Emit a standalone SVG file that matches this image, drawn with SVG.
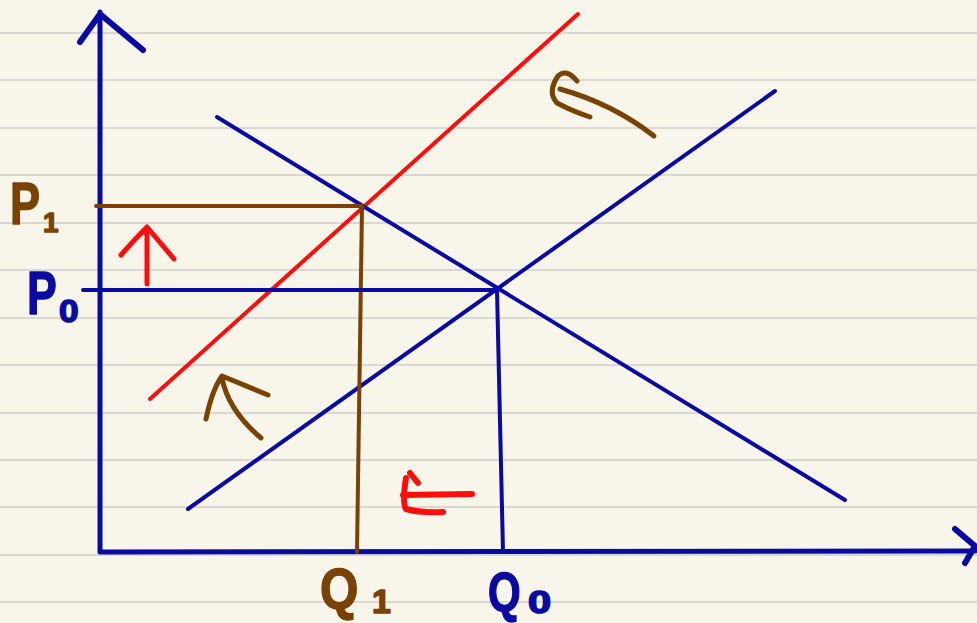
<svg xmlns="http://www.w3.org/2000/svg" width="977" height="623" viewBox="0 0 977 623">
<style>
.rule{stroke:#d9d8d4;stroke-width:2}
.blue{stroke:#0a0aa0;fill:none;stroke-linecap:round;stroke-linejoin:round}
.red{stroke:#ff0d0d;fill:none;stroke-linecap:round;stroke-linejoin:round}
.brown{stroke:#7a4200;fill:none;stroke-linecap:round;stroke-linejoin:round}
.lbl{font-family:"Liberation Sans",Arial,sans-serif;font-weight:bold;stroke-width:1.5;stroke-linejoin:round}
.lb{fill:#7a4200;stroke:#7a4200}
.lu{fill:#0a0aa0;stroke:#0a0aa0}
</style>
<rect width="977" height="623" fill="#f8f6ea"/>
<g id="ruling">
<line class="rule" x1="0" y1="33" x2="977" y2="33"/>
<line class="rule" x1="0" y1="80" x2="977" y2="80"/>
<line class="rule" x1="0" y1="128" x2="977" y2="128"/>
<line class="rule" x1="0" y1="175" x2="977" y2="175"/>
<line class="rule" x1="0" y1="223" x2="977" y2="223"/>
<line class="rule" x1="0" y1="270" x2="977" y2="270"/>
<line class="rule" x1="0" y1="318" x2="977" y2="318"/>
<line class="rule" x1="0" y1="365" x2="977" y2="365"/>
<line class="rule" x1="0" y1="413" x2="977" y2="413"/>
<line class="rule" x1="0" y1="460" x2="977" y2="460"/>
<line class="rule" x1="0" y1="507" x2="977" y2="507"/>
<line class="rule" x1="0" y1="555" x2="977" y2="555"/>
<line class="rule" x1="0" y1="602" x2="977" y2="602"/>
</g>
<g id="connectors">
<path class="blue" stroke-width="5" d="M100 12 L100 552 L975 551"/>
<path class="blue" stroke-width="6" d="M80 42 L100 14 L143 50"/>
<path class="blue" stroke-width="6" d="M955 529 L975 546 L965 563"/>
<line class="red" stroke-width="4" x1="150" y1="399" x2="578" y2="14"/>
<line class="blue" stroke-width="4" x1="188" y1="509" x2="775" y2="91"/>
<line class="blue" stroke-width="4" x1="217" y1="117" x2="845" y2="500"/>
<path class="brown" stroke-width="4" d="M96 206 L362 206 L357 552"/>
<path class="blue" stroke-width="4" d="M83 290 L497 290 L503 552"/>
</g>
<g id="arrows">
<path class="red" stroke-width="5" d="M147 284 L147 236 Q146 229 141 233 M121 255 Q133 241 147 227 L174 259"/>
<path class="brown" stroke-width="5" d="M206 419 Q212 390 222 376 L268 395 M222 378 Q228 410 261 438"/>
<path class="red" stroke-width="6" d="M410 473 L418 483 M406 478 Q402 503 406 509 Q420 513 443 512 M403 495 L472 494"/>
<path class="brown" stroke-width="5" d="M577 81 Q566 68 558 76 Q547 92 557 103 Q572 111 590 117 M560 89 Q613 104 654 136"/>
</g>
<g id="P1">
<text class="lbl lb" transform="translate(10,224) scale(0.75,1)" font-size="60">P</text>
<text class="lbl lb" x="43" y="232" font-size="28">1</text>
</g>
<g id="P0">
<text class="lbl lu" transform="translate(27,314) scale(0.72,1)" font-size="62">P</text>
<text class="lbl lu" transform="translate(59,322) scale(1.1,1)" font-size="32">0</text>
</g>
<g id="Q1">
<text class="lbl lb" transform="translate(320,609) scale(0.85,1)" font-size="58">Q</text>
<text class="lbl lb" x="372" y="613" font-size="34">1</text>
</g>
<g id="Q0">
<text class="lbl lu" transform="translate(488,611) scale(0.75,1)" font-size="56">Q</text>
<text class="lbl lu" transform="translate(528,613) scale(1.3,1)" font-size="32">0</text>
</g>
</svg>
